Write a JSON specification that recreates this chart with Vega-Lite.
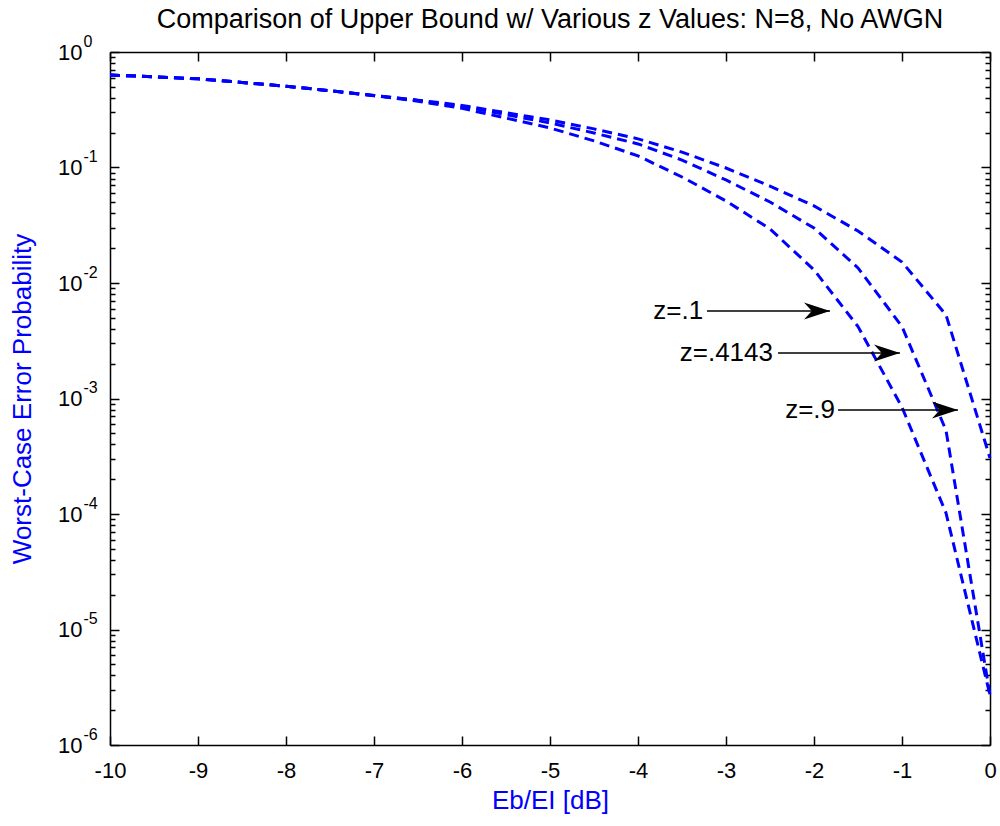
{
  "$schema": "https://vega.github.io/schema/vega-lite/v6.json",
  "width": 880,
  "height": 693,
  "autosize": {"type": "none"},
  "padding": {"left": 110, "top": 52, "right": 10, "bottom": 81},
  "background": "white",
  "title": {"text": "Comparison of Upper Bound w/ Various z Values: N=8, No AWGN", "fontSize": 27, "fontWeight": "normal", "font": "Liberation Sans", "color": "black", "anchor": "middle", "baseline": "bottom", "offset": 6, "dy": 34},
  "config": {
    "view": {"stroke": null},
    "axis": {"grid": false, "labelFont": "Liberation Sans", "titleFont": "Liberation Sans", "titleFontWeight": "normal", "domainColor": "black", "tickColor": "black", "labelColor": "black", "labelOverlap": false, "labelFlush": false, "labelBound": false, "domainWidth": 1.5, "tickWidth": 1.5},
    "text": {"font": "Liberation Sans"}
  },
  "datasets": {
    "curves": [
      {"ebei": -10, "z": "0.9", "pe": 0.632}, {"ebei": -9.5, "z": "0.9", "pe": 0.61}, {"ebei": -9, "z": "0.9", "pe": 0.586}, {"ebei": -8.5, "z": "0.9", "pe": 0.545}, {"ebei": -8, "z": "0.9", "pe": 0.505}, {"ebei": -7.5, "z": "0.9", "pe": 0.462}, {"ebei": -7, "z": "0.9", "pe": 0.42}, {"ebei": -6.5, "z": "0.9", "pe": 0.383}, {"ebei": -6, "z": "0.9", "pe": 0.345}, {"ebei": -5.5, "z": "0.9", "pe": 0.298}, {"ebei": -5, "z": "0.9", "pe": 0.258}, {"ebei": -4.5, "z": "0.9", "pe": 0.216}, {"ebei": -4, "z": "0.9", "pe": 0.177}, {"ebei": -3.5, "z": "0.9", "pe": 0.136}, {"ebei": -3, "z": "0.9", "pe": 0.099}, {"ebei": -2.5, "z": "0.9", "pe": 0.069}, {"ebei": -2, "z": "0.9", "pe": 0.0465}, {"ebei": -1.5, "z": "0.9", "pe": 0.0282}, {"ebei": -1, "z": "0.9", "pe": 0.0152}, {"ebei": -0.5, "z": "0.9", "pe": 0.0053}, {"ebei": 0, "z": "0.9", "pe": 0.000305},
      {"ebei": -10, "z": "0.4143", "pe": 0.632}, {"ebei": -9.5, "z": "0.4143", "pe": 0.61}, {"ebei": -9, "z": "0.4143", "pe": 0.586}, {"ebei": -8.5, "z": "0.4143", "pe": 0.545}, {"ebei": -8, "z": "0.4143", "pe": 0.505}, {"ebei": -7.5, "z": "0.4143", "pe": 0.462}, {"ebei": -7, "z": "0.4143", "pe": 0.42}, {"ebei": -6.5, "z": "0.4143", "pe": 0.381}, {"ebei": -6, "z": "0.4143", "pe": 0.338}, {"ebei": -5.5, "z": "0.4143", "pe": 0.287}, {"ebei": -5, "z": "0.4143", "pe": 0.243}, {"ebei": -4.5, "z": "0.4143", "pe": 0.199}, {"ebei": -4, "z": "0.4143", "pe": 0.16}, {"ebei": -3.5, "z": "0.4143", "pe": 0.116}, {"ebei": -3, "z": "0.4143", "pe": 0.078}, {"ebei": -2.5, "z": "0.4143", "pe": 0.0503}, {"ebei": -2, "z": "0.4143", "pe": 0.0299}, {"ebei": -1.5, "z": "0.4143", "pe": 0.0135}, {"ebei": -1, "z": "0.4143", "pe": 0.0042}, {"ebei": -0.5, "z": "0.4143", "pe": 0.00053}, {"ebei": 0, "z": "0.4143", "pe": 0.0000027},
      {"ebei": -10, "z": "0.1", "pe": 0.632}, {"ebei": -9.5, "z": "0.1", "pe": 0.61}, {"ebei": -9, "z": "0.1", "pe": 0.586}, {"ebei": -8.5, "z": "0.1", "pe": 0.545}, {"ebei": -8, "z": "0.1", "pe": 0.505}, {"ebei": -7.5, "z": "0.1", "pe": 0.462}, {"ebei": -7, "z": "0.1", "pe": 0.418}, {"ebei": -6.5, "z": "0.1", "pe": 0.375}, {"ebei": -6, "z": "0.1", "pe": 0.325}, {"ebei": -5.5, "z": "0.1", "pe": 0.268}, {"ebei": -5, "z": "0.1", "pe": 0.22}, {"ebei": -4.5, "z": "0.1", "pe": 0.17}, {"ebei": -4, "z": "0.1", "pe": 0.126}, {"ebei": -3.5, "z": "0.1", "pe": 0.0828}, {"ebei": -3, "z": "0.1", "pe": 0.0513}, {"ebei": -2.5, "z": "0.1", "pe": 0.0294}, {"ebei": -2, "z": "0.1", "pe": 0.013}, {"ebei": -1.5, "z": "0.1", "pe": 0.0042}, {"ebei": -1, "z": "0.1", "pe": 0.00084}, {"ebei": -0.5, "z": "0.1", "pe": 0.000102}, {"ebei": 0, "z": "0.1", "pe": 0.0000027}
    ],
    "arrows": [
      {"label": "z=.1", "tx": -3.26, "x1": -3.216, "x2": -1.818, "pe": 0.00573},
      {"label": "z=.4143", "tx": -2.466, "x1": -2.409, "x2": -1.023, "pe": 0.00248},
      {"label": "z=.9", "tx": -1.761, "x1": -1.727, "x2": -0.364, "pe": 0.000795}
    ]
  },
  "layer": [
    {
      "data": {"name": "curves"},
      "mark": {"type": "line", "color": "#0000ff", "strokeWidth": 3, "strokeDash": [10, 6]},
      "encoding": {
        "x": {"field": "ebei", "type": "quantitative", "scale": {"domain": [-10, 0], "nice": false, "zero": false},
          "axis": {"orient": "bottom", "title": "Eb/EI [dB]", "values": [-10, -9, -8, -7, -6, -5, -4, -3, -2, -1, 0], "labelExpr": "'' + datum.value", "ticks": false, "domain": true, "labelFontSize": 22, "labelPadding": 15, "titleFontSize": 26, "titleColor": "#0000ff", "titleY": 63, "titleBaseline": "alphabetic"}},
        "y": {"field": "pe", "type": "quantitative", "scale": {"type": "log", "domain": [0.000001, 1], "nice": false},
          "axis": {"orient": "left", "title": "Worst-Case Error Probability", "values": [0.000001, 0.00001, 0.0001, 0.001, 0.01, 0.1, 1], "ticks": false, "domain": true, "labelExpr": "'10'", "labelFontSize": 22, "labelPadding": 28, "labelBaseline": "middle", "titleFontSize": 26, "titleColor": "#0000ff", "titleX": -88, "titleY": 346.5, "titleAngle": -90, "titleAlign": "center", "titleBaseline": "middle"}},
        "detail": {"field": "z"}
      }
    },
    {
      "data": {"name": "curves"},
      "mark": {"type": "point", "opacity": 0},
      "encoding": {
        "x": {"field": "ebei", "type": "quantitative",
          "axis": {"orient": "top", "title": null, "labels": false, "domain": true, "values": [-10, -9, -8, -7, -6, -5, -4, -3, -2, -1, 0], "tickSize": -9}},
        "y": {"field": "pe", "type": "quantitative",
          "axis": {"orient": "right", "title": null, "labels": false, "domain": true,
            "values": [0.000001, 0.000002, 0.000003, 0.000004, 0.000005, 0.000006, 0.000007, 0.000008, 0.000009, 0.00001, 0.00002, 0.00003, 0.00004, 0.00005, 0.00006, 0.00007, 0.00008, 0.00009, 0.0001, 0.0002, 0.0003, 0.0004, 0.0005, 0.0006, 0.0007, 0.0008, 0.0009, 0.001, 0.002, 0.003, 0.004, 0.005, 0.006, 0.007, 0.008, 0.009, 0.01, 0.02, 0.03, 0.04, 0.05, 0.06, 0.07, 0.08, 0.09, 0.1, 0.2, 0.3, 0.4, 0.5, 0.6, 0.7, 0.8, 0.9, 1],
            "tickSize": {"condition": {"test": "abs(log(datum.value)/LN10 - round(log(datum.value)/LN10)) < 0.01", "value": -9}, "value": -5}}}
      }
    },
    {
      "data": {"name": "curves"},
      "mark": {"type": "point", "opacity": 0},
      "encoding": {
        "x": {"field": "ebei", "type": "quantitative",
          "axis": {"orient": "bottom", "title": null, "labels": false, "domain": false, "values": [-10, -9, -8, -7, -6, -5, -4, -3, -2, -1, 0], "tickSize": -9}},
        "y": {"field": "pe", "type": "quantitative",
          "axis": {"orient": "left", "title": null, "labels": false, "domain": false,
            "values": [0.000001, 0.000002, 0.000003, 0.000004, 0.000005, 0.000006, 0.000007, 0.000008, 0.000009, 0.00001, 0.00002, 0.00003, 0.00004, 0.00005, 0.00006, 0.00007, 0.00008, 0.00009, 0.0001, 0.0002, 0.0003, 0.0004, 0.0005, 0.0006, 0.0007, 0.0008, 0.0009, 0.001, 0.002, 0.003, 0.004, 0.005, 0.006, 0.007, 0.008, 0.009, 0.01, 0.02, 0.03, 0.04, 0.05, 0.06, 0.07, 0.08, 0.09, 0.1, 0.2, 0.3, 0.4, 0.5, 0.6, 0.7, 0.8, 0.9, 1],
            "tickSize": {"condition": {"test": "abs(log(datum.value)/LN10 - round(log(datum.value)/LN10)) < 0.01", "value": -9}, "value": -5}}}
      }
    },
    {
      "data": {"name": "curves"},
      "mark": {"type": "point", "opacity": 0},
      "encoding": {
        "x": {"field": "ebei", "type": "quantitative", "axis": null},
        "y": {"field": "pe", "type": "quantitative",
          "axis": {"orient": "left", "title": null, "ticks": false, "domain": false, "values": [0.000001, 0.00001, 0.0001, 0.001, 0.01, 0.1, 1],
            "labelExpr": "datum.value >= 0.999 ? '0' : '-' + round(-log(datum.value)/LN10)", "labelFontSize": 16, "labelAlign": "left", "labelPadding": 27, "labelOffset": -11, "labelBaseline": "middle"}}
      }
    },
    {
      "data": {"name": "arrows"},
      "mark": {"type": "rule", "color": "black", "strokeWidth": 1.5},
      "encoding": {
        "x": {"field": "x1", "type": "quantitative", "axis": null},
        "x2": {"field": "x2"},
        "y": {"field": "pe", "type": "quantitative", "axis": null}
      }
    },
    {
      "data": {"name": "arrows"},
      "mark": {"type": "point", "shape": "M0,0 L-2,-0.65 L-1.4,0 L-2,0.65 Z", "size": 676, "filled": true, "color": "black", "opacity": 1},
      "encoding": {
        "x": {"field": "x2", "type": "quantitative", "axis": null},
        "y": {"field": "pe", "type": "quantitative", "axis": null}
      }
    },
    {
      "data": {"name": "arrows"},
      "mark": {"type": "text", "align": "right", "baseline": "middle", "fontSize": 26, "color": "black"},
      "encoding": {
        "x": {"field": "tx", "type": "quantitative", "axis": null},
        "y": {"field": "pe", "type": "quantitative", "axis": null},
        "text": {"field": "label"}
      }
    }
  ],
  "resolve": {"axis": {"x": "independent", "y": "independent"}}
}
